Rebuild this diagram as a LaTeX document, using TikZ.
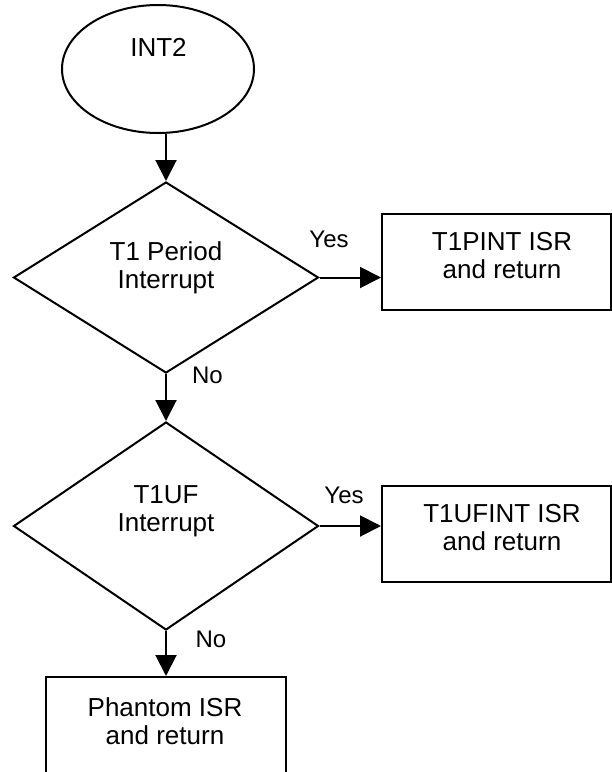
\documentclass[tikz,border=0pt]{standalone}
\usepackage{fontspec}
\setmainfont{Liberation Sans}
\usetikzlibrary{shapes.geometric,arrows.meta}

\tikzset{
  outline/.style={draw, line width=2pt, inner sep=0pt},
  startnode/.style={outline, ellipse, minimum width=192pt, minimum height=128pt},
  decision/.style={outline, diamond, shape aspect=1.6},
  procbox/.style={outline, rectangle, minimum height=96pt},
  txt/.style={align=center, inner sep=0pt, font=\fontsize{26}{28}\selectfont},
  lbl/.style={inner sep=0pt, font=\fontsize{24}{28}\selectfont},
  flow/.style={line width=2pt, -{Triangle[length=21pt,width=21pt]}}
}

\begin{document}
\begin{tikzpicture}[x=1pt, y=-1pt]
  \useasboundingbox (0,0) rectangle (612,772);

  % shapes
  \node[startnode] (int2) at (158,69) {};
  \node[decision, minimum width=305pt, minimum height=191pt] (d1) at (166,277.5) {};
  \node[decision, minimum width=305pt, minimum height=208pt] (d2) at (166,526) {};
  \node[procbox, minimum width=229pt] (b1) at (496.5,262) {};
  \node[procbox, minimum width=229pt] (b2) at (496.5,534) {};
  \node[procbox, minimum width=240pt] (ph) at (166,725) {};

  % texts inside the shapes
  \node[txt] (int2t) at (158.5,47.5) {INT2};
  \node[txt] (d1t) at (166,268) {T1 Period\\Interrupt};
  \node[txt] (d2t) at (166,511.5) {T1UF\\Interrupt};
  \node[txt] (b1t) at (502,255.7) {T1PINT ISR\\and return};
  \node[txt] (b2t) at (502,528) {T1UFINT ISR\\and return};
  \node[txt] (pht) at (165,720.7) {Phantom ISR\\and return};

  % connectors
  \draw[flow] (d1.north |- int2.south) -- (d1.north);
  \draw[flow] (d1.east) -- (d1.east -| b1.west);
  \draw[flow] (d1.south) -- (d2.north);
  \draw[flow] (d2.east) -- (d2.east -| b2.west);
  \draw[flow] (d2.south) -- (d2.south |- ph.north);

  % branch labels
  \node[lbl] (yes1) at (329,239.5) {Yes};
  \node[lbl] (no1) at (207.5,375) {No};
  \node[lbl] (yes2) at (344,495.5) {Yes};
  \node[lbl] (no2) at (211,639) {No};
\end{tikzpicture}
\end{document}
